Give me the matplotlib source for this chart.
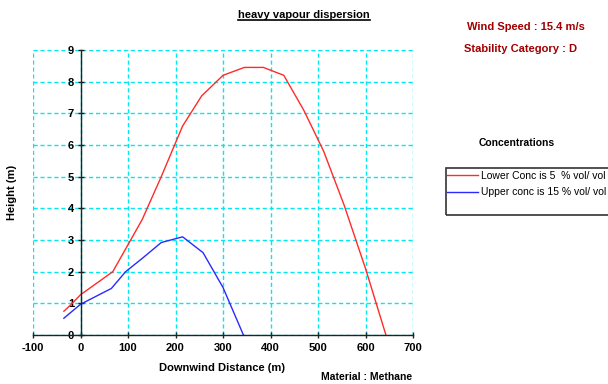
import matplotlib
matplotlib.use("Agg")
import matplotlib.pyplot as plt
from matplotlib.lines import Line2D
from matplotlib.patches import Rectangle

plt.rcParams['font.family'] = ['Liberation Sans', 'DejaVu Sans']
plt.rcParams['axes.unicode_minus'] = False

# Data
lower_x = [-35, -20, 0, 68, 130, 170, 215, 255, 300, 345, 385, 428, 470, 512, 555, 600, 643]
lower_y = [0.75, 0.96, 1.27, 2.0, 3.65, 5.0, 6.6, 7.55, 8.2, 8.45, 8.45, 8.2, 7.1, 5.8, 4.1, 2.1, 0.0]
upper_x = [-35, 0, 65, 95, 130, 170, 215, 258, 300, 343]
upper_y = [0.53, 0.97, 1.47, 2.0, 2.42, 2.92, 3.1, 2.6, 1.5, 0.0]
xticks = [-100, 0, 100, 200, 300, 400, 500, 600, 700]
yticks = [0, 1, 2, 3, 4, 5, 6, 7, 8, 9]
series_labels = ["Lower Conc is 5  % vol/ vol", "Upper conc is 15 % vol/ vol"]

W, H = 608, 384
fig = plt.figure(figsize=(W / 100, H / 100), dpi=100)
ax = fig.add_axes([33 / W, 1 - 335 / H, 380 / W, 285 / H])

l1, = ax.plot(lower_x, lower_y, color='#ff2a2a', lw=1.0, zorder=3)
l2, = ax.plot(upper_x, upper_y, color='#2a2aff', lw=1.0, zorder=3)

ax.set_xlim(-100, 700)
ax.set_ylim(0, 9)
ax.set_xticks(xticks)
ax.set_yticks(yticks)
ax.grid(True, color='#00e8f0', linestyle=(0, (3, 2)), lw=1.0, zorder=1)
ax.set_axisbelow(True)

for s in ['top', 'right']:
    ax.spines[s].set_visible(False)
ax.spines['left'].set_position(('data', 0))
ax.spines['bottom'].set_position(('data', 0))
for s in ['left', 'bottom']:
    ax.spines[s].set_color('#222222')
    ax.spines[s].set_linewidth(1.0)
    ax.spines[s].set_zorder(4)

ax.tick_params(axis='both', direction='inout', length=5, width=1, color='#222222',
               labelsize=8)
ax.tick_params(axis='y', pad=2)
ax.tick_params(axis='x', pad=3)
for lab in ax.get_xticklabels() + ax.get_yticklabels():
    lab.set_fontweight('bold')

# Axis labels
fig.text(12 / W, 1 - 192 / H, "Height (m)", rotation=90, ha='center', va='center',
         fontsize=8, fontweight='bold')
fig.text(222 / W, 1 - 368 / H, "Downwind Distance (m)", ha='center', va='center',
         fontsize=8, fontweight='bold')
fig.text(367 / W, 1 - 377 / H, "Material : Methane", ha='center', va='center',
         fontsize=7.5, fontweight='bold')

# Title with underline
title = fig.text(0.5, 1 - 15 / H, "heavy vapour dispersion", ha='center', va='center',
                 fontsize=8, fontweight='bold')
fig.canvas.draw()
bb = title.get_window_extent(fig.canvas.get_renderer())
yline = (bb.y0 + 0.5) / H
fig.add_artist(Line2D([bb.x0 / W, bb.x1 / W], [yline, yline], color='black', lw=1.2))

# Info text
fig.text(467 / W, 1 - 27 / H, "Wind Speed : 15.4 m/s", ha='left', va='center',
         fontsize=8, fontweight='bold', color='#a00000')
fig.text(464 / W, 1 - 49 / H, "Stability Category : D", ha='left', va='center',
         fontsize=8, fontweight='bold', color='#a00000')

fig.text(517 / W, 1 - 143 / H, "Concentrations", ha='center', va='center',
         fontsize=7.5, fontweight='bold')

# Legend box
fig.add_artist(Rectangle((446 / W, 1 - 215 / H), 200 / W, 47 / H, transform=fig.transFigure,
                         fill=False, edgecolor='#333333', lw=1.2))
leg = fig.legend([l1, l2], series_labels, loc='upper left',
                 bbox_to_anchor=(445 / W, 1 - 169 / H), frameon=False, fontsize=7.5,
                 handlelength=3.0, handletextpad=0.3, labelspacing=0.6,
                 borderaxespad=0, borderpad=0.2)

fig.savefig("out.png", dpi=100)
